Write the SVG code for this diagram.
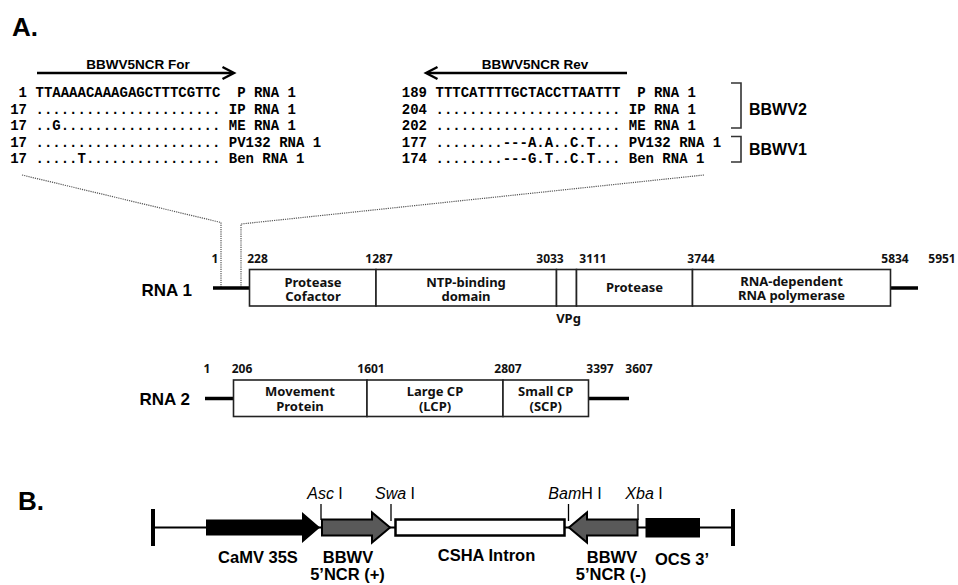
<svg xmlns="http://www.w3.org/2000/svg" width="958" height="585" viewBox="0 0 958 585">
<style>
.title{font-family:"Liberation Sans",Arial,sans-serif;font-weight:bold;font-size:26px;fill:#000}
.plbl{font-family:"Liberation Sans",Arial,sans-serif;font-weight:bold;font-size:13.5px;fill:#000;text-anchor:middle}
.seq{font-family:"Liberation Mono","Courier New",monospace;font-weight:bold;font-size:14px;fill:#000;white-space:pre}
.snum{font-family:"Liberation Mono","Courier New",monospace;font-weight:bold;font-size:14px;fill:#000;text-anchor:end}
.grp{font-family:"Liberation Sans",Arial,sans-serif;font-weight:bold;font-size:16px;fill:#000}
.rna{font-family:"Liberation Sans",Arial,sans-serif;font-weight:bold;font-size:17px;fill:#000}
.num{font-family:"Noto Sans","Open Sans",sans-serif;font-weight:bold;font-size:12px;fill:#111;text-anchor:middle}
.bt{font-family:"Noto Sans","Open Sans",sans-serif;font-weight:bold;font-size:13px;fill:#111;text-anchor:middle}
.box{fill:#fff;stroke:#222;stroke-width:1.6}
.thick{stroke:#000;stroke-width:3.5;fill:none}
.dot{stroke:#555;stroke-width:1.2;stroke-dasharray:1.2 1;fill:none}
.prim{stroke:#000;stroke-width:2.4;fill:none}
.brk{stroke:#333;stroke-width:1.6;fill:none}
.bl{font-family:"Liberation Sans",Arial,sans-serif;font-weight:bold;font-size:16.5px;fill:#000;text-anchor:middle}
.rs{font-family:"Liberation Sans",Arial,sans-serif;font-size:16px;fill:#000;text-anchor:middle}
.rl{stroke:#000;stroke-width:1.3}
</style>

<!-- Panel A -->
<text class="title" x="12" y="36">A.</text>

<g id="primer-for">
  <line class="prim" x1="37" y1="73" x2="233" y2="73"/>
  <polyline class="prim" points="222.5,67 234,73 222.5,79"/>
  <text class="plbl" x="138" y="69">BBWV5NCR For</text>
</g>
<g id="primer-rev">
  <line class="prim" x1="427" y1="73" x2="627" y2="73"/>
  <polyline class="prim" points="437.5,67 426,73 437.5,79"/>
  <text class="plbl" x="535" y="69">BBWV5NCR Rev</text>
</g>

<g id="align-left">
  <text class="snum" x="27" y="97">1</text>
  <text class="seq" x="35.5" y="97" xml:space="preserve">TTAAAACAAAGAGCTTTCGTTC  P RNA 1</text>
  <text class="snum" x="27" y="113.5">17</text>
  <text class="seq" x="35.5" y="113.5" xml:space="preserve">...................... IP RNA 1</text>
  <text class="snum" x="27" y="130">17</text>
  <text class="seq" x="35.5" y="130" xml:space="preserve">..G................... ME RNA 1</text>
  <text class="snum" x="27" y="146.5">17</text>
  <text class="seq" x="35.5" y="146.5" xml:space="preserve">...................... PV132 RNA 1</text>
  <text class="snum" x="27" y="163">17</text>
  <text class="seq" x="35.5" y="163" xml:space="preserve">.....T................ Ben RNA 1</text>
</g>

<g id="align-right">
  <text class="snum" x="427" y="97">189</text>
  <text class="seq" x="435.5" y="97" xml:space="preserve">TTTCATTTTGCTACCTTAATTT  P RNA 1</text>
  <text class="snum" x="427" y="113.5">204</text>
  <text class="seq" x="435.5" y="113.5" xml:space="preserve">...................... IP RNA 1</text>
  <text class="snum" x="427" y="130">202</text>
  <text class="seq" x="435.5" y="130" xml:space="preserve">...................... ME RNA 1</text>
  <text class="snum" x="427" y="146.5">177</text>
  <text class="seq" x="435.5" y="146.5" xml:space="preserve">........---A.A..C.T... PV132 RNA 1</text>
  <text class="snum" x="427" y="163">174</text>
  <text class="seq" x="435.5" y="163" xml:space="preserve">........---G.T..C.T... Ben RNA 1</text>
</g>

<g id="bracket-bbwv2">
  <path class="brk" d="M731,83 H741 V128 H731"/>
  <text class="grp" x="749" y="115">BBWV2</text>
</g>
<g id="bracket-bbwv1">
  <path class="brk" d="M731,136.5 H741 V162 H731"/>
  <text class="grp" x="749" y="155">BBWV1</text>
</g>

<g id="zoom-lines">
  <polyline class="dot" points="22,175 221,222.5 221,287"/>
  <polyline class="dot" points="704,175 241,224 241,287"/>
</g>

<!-- RNA 1 -->
<g id="rna1">
  <text class="rna" x="141.5" y="296">RNA 1</text>
  <line class="thick" x1="213" y1="288" x2="249.5" y2="288"/>
  <line class="thick" x1="890.5" y1="288" x2="918" y2="288"/>
  <text class="num" x="215" y="262.5">1</text>
  <text class="num" x="257.5" y="262.5">228</text>
  <text class="num" x="379" y="262.5">1287</text>
  <text class="num" x="550" y="262.5">3033</text>
  <text class="num" x="593" y="262.5">3111</text>
  <text class="num" x="701" y="262.5">3744</text>
  <text class="num" x="895" y="262.5">5834</text>
  <text class="num" x="942" y="262.5">5951</text>
</g>
<g id="rna1-protease-cofactor">
  <rect class="box" x="249.5" y="269.5" width="126.5" height="36.5"/>
  <text class="bt" x="313" y="286.5">Protease</text>
  <text class="bt" x="313" y="300.5">Cofactor</text>
</g>
<g id="rna1-ntp">
  <rect class="box" x="376" y="269.5" width="180.5" height="36.5"/>
  <text class="bt" x="466" y="286.5">NTP-binding</text>
  <text class="bt" x="466" y="300.5">domain</text>
</g>
<g id="rna1-vpg">
  <rect class="box" x="556.5" y="269.5" width="20" height="36.5"/>
  <text class="bt" x="568.5" y="323">VPg</text>
</g>
<g id="rna1-protease">
  <rect class="box" x="576.5" y="269.5" width="116" height="36.5"/>
  <text class="bt" x="634.5" y="291.5">Protease</text>
</g>
<g id="rna1-rdrp">
  <rect class="box" x="692.5" y="269.5" width="198" height="36.5"/>
  <text class="bt" x="791.5" y="286">RNA-dependent</text>
  <text class="bt" x="791.5" y="300">RNA polymerase</text>
</g>

<!-- RNA 2 -->
<g id="rna2">
  <text class="rna" x="139.5" y="404.5">RNA 2</text>
  <line class="thick" x1="205" y1="398.5" x2="233.5" y2="398.5"/>
  <line class="thick" x1="588.5" y1="398.5" x2="629" y2="398.5"/>
  <text class="num" x="207" y="373">1</text>
  <text class="num" x="242" y="373">206</text>
  <text class="num" x="371" y="373">1601</text>
  <text class="num" x="508" y="373">2807</text>
  <text class="num" x="600" y="373">3397</text>
  <text class="num" x="639" y="373">3607</text>
</g>
<g id="rna2-mp">
  <rect class="box" x="233.5" y="380" width="133.5" height="36.5"/>
  <text class="bt" x="300" y="396">Movement</text>
  <text class="bt" x="300" y="410.5">Protein</text>
</g>
<g id="rna2-lcp">
  <rect class="box" x="367" y="380" width="136" height="36.5"/>
  <text class="bt" x="435" y="396">Large CP</text>
  <text class="bt" x="435" y="410.5">(LCP)</text>
</g>
<g id="rna2-scp">
  <rect class="box" x="503" y="380" width="85.5" height="36.5"/>
  <text class="bt" x="545.7" y="396">Small CP</text>
  <text class="bt" x="545.7" y="410.5">(SCP)</text>
</g>

<!-- Panel B -->
<text class="title" x="18" y="510">B.</text>

<g id="connectors">
  <line x1="153" y1="527.5" x2="733" y2="527.5" stroke="#000" stroke-width="1.8"/>
  <line class="rl" x1="321" y1="504" x2="321" y2="520"/>
  <line class="rl" x1="391" y1="504" x2="391" y2="521"/>
  <line class="rl" x1="568.5" y1="504" x2="568.5" y2="521"/>
  <line class="rl" x1="638" y1="504" x2="638" y2="520"/>
</g>
<g id="end-left"><line x1="153" y1="509" x2="153" y2="546" stroke="#000" stroke-width="4"/></g>
<g id="end-right"><line x1="733" y1="509" x2="733" y2="546" stroke="#000" stroke-width="4"/></g>

<g id="camv35s">
  <polygon points="206,519.5 302,519.5 302,512 320,527.5 302,543 302,535.5 206,535.5" fill="#000"/>
  <text class="bl" x="258" y="563">CaMV 35S</text>
</g>
<g id="ncr-plus">
  <polygon points="322,519.5 372,519.5 372,512.5 390,527.5 372,542.5 372,535.5 322,535.5" fill="#595959" stroke="#000" stroke-width="2"/>
  <text class="bl" x="348" y="563">BBWV</text>
  <text class="bl" x="347.5" y="580">5’NCR (+)</text>
</g>
<g id="csha-intron">
  <rect x="395.5" y="519.5" width="169" height="16" fill="#fff" stroke="#000" stroke-width="2.5"/>
  <text class="bl" x="486.5" y="561">CSHA Intron</text>
</g>
<g id="ncr-minus">
  <polygon points="637.5,519.5 587,519.5 587,512.5 569,527.5 587,542.5 587,535.5 637.5,535.5" fill="#595959" stroke="#000" stroke-width="2"/>
  <text class="bl" x="612" y="563">BBWV</text>
  <text class="bl" x="611" y="580">5’NCR (-)</text>
</g>
<g id="ocs3">
  <rect x="645.5" y="518" width="54.5" height="19.5" fill="#000"/>
  <text class="bl" x="682" y="565">OCS 3’</text>
</g>

<g id="sites">
  <text class="rs" x="325" y="499"><tspan font-style="italic">Asc</tspan> I</text>
  <text class="rs" x="395" y="499"><tspan font-style="italic">Swa</tspan> I</text>
  <text class="rs" x="575" y="499"><tspan font-style="italic">Bam</tspan>H I</text>
  <text class="rs" x="644" y="499"><tspan font-style="italic">Xba</tspan> I</text>
</g>
</svg>
